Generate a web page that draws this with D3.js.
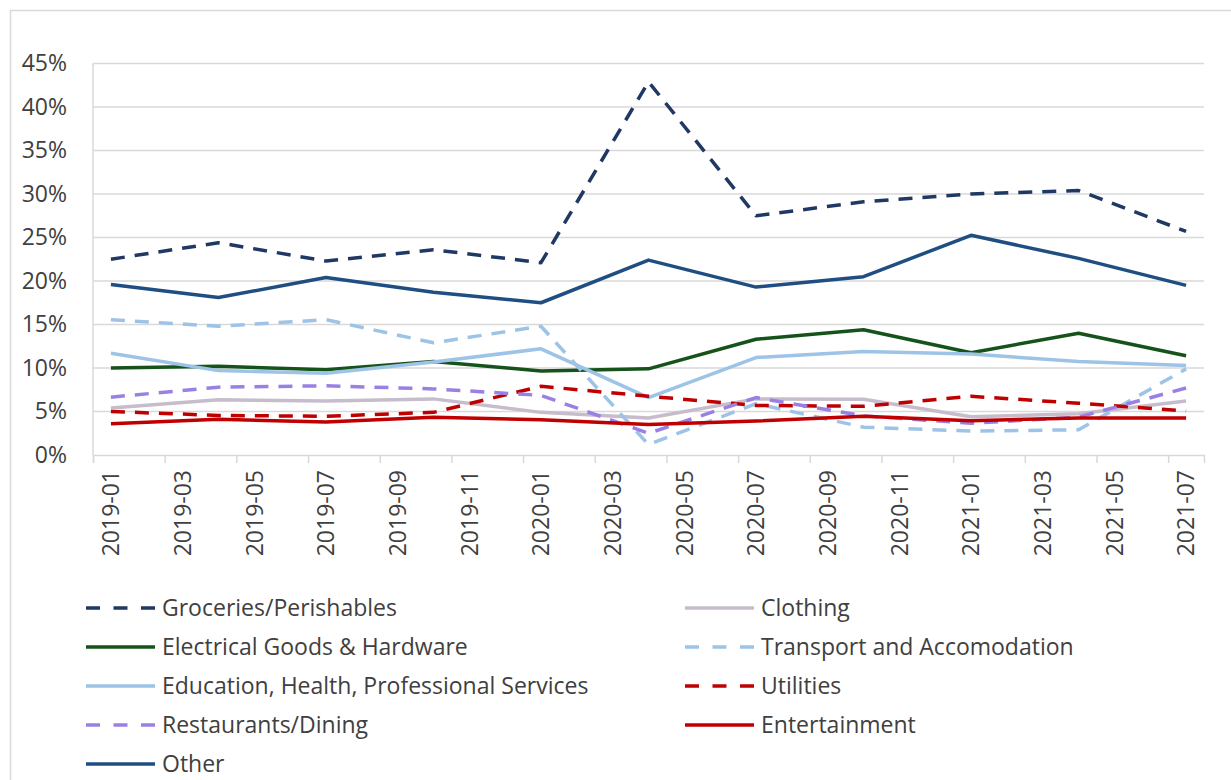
<!DOCTYPE html>
<html>
<head>
<meta charset="utf-8">
<script src="https://cdn.jsdelivr.net/npm/d3@7"></script>
<style>
  body { margin: 0; background: #fff; }
  svg text { font-family: "Open Sans", Lato, sans-serif; fill: #404040; }
</style>
</head>
<body>
<div id="chart"></div>
<script>
// quarterly observations
const dates = ["2019-01", "2019-04", "2019-07", "2019-10", "2020-01", "2020-04", "2020-07", "2020-10", "2021-01", "2021-04", "2021-07"];

const groceries     = [22.5, 24.4, 22.3, 23.6, 22.1, 42.9, 27.5, 29.1, 30.0, 30.4, 25.7];
const clothing      = [5.4, 6.35, 6.2, 6.45, 4.9, 4.25, 6.45, 6.4, 4.4, 4.75, 6.2];
const electrical    = [10.0, 10.2, 9.8, 10.75, 9.65, 9.9, 13.3, 14.4, 11.75, 14.0, 11.4];
const transport     = [15.55, 14.8, 15.55, 12.9, 14.8, 1.2, 5.9, 3.2, 2.75, 2.9, 9.9];
const education     = [11.7, 9.7, 9.4, 10.7, 12.2, 6.6, 11.2, 11.9, 11.6, 10.75, 10.3];
const utilities     = [5.0, 4.55, 4.45, 4.9, 7.9, 6.75, 5.7, 5.6, 6.75, 5.95, 5.05];
const restaurants   = [6.65, 7.8, 7.95, 7.6, 6.85, 2.5, 6.6, 4.5, 3.65, 4.35, 7.7];
const entertainment = [3.6, 4.1, 3.8, 4.35, 4.05, 3.5, 3.9, 4.45, 3.95, 4.25, 4.25];
const other         = [19.6, 18.1, 20.4, 18.7, 17.5, 22.4, 19.3, 20.5, 25.25, 22.6, 19.5];

const tickLabels = ["2019-01", "2019-03", "2019-05", "2019-07", "2019-09", "2019-11", "2020-01", "2020-03",
                    "2020-05", "2020-07", "2020-09", "2020-11", "2021-01", "2021-03", "2021-05", "2021-07"];
const yTicks = [0, 5, 10, 15, 20, 25, 30, 35, 40, 45];

const series = [
    { name: "Groceries/Perishables", values: groceries, color: "#203864", dash: true },
    { name: "Clothing", values: clothing, color: "#c7bccb", dash: false },
    { name: "Electrical Goods & Hardware", values: electrical, color: "#15531a", dash: false },
    { name: "Transport and Accomodation", values: transport, color: "#9dc3e6", dash: true },
    { name: "Education, Health, Professional Services", values: education, color: "#9dc3e6", dash: false },
    { name: "Utilities", values: utilities, color: "#c00000", dash: true },
    { name: "Restaurants/Dining", values: restaurants, color: "#9b80e3", dash: true },
    { name: "Entertainment", values: entertainment, color: "#c00000", dash: false },
    { name: "Other", values: other, color: "#1f4e82", dash: false }
];

const W = 1231, H = 780;
const svg = d3.select("#chart").append("svg").attr("width", W).attr("height", H);

// chart border (runs off the right/bottom of the picture)
svg.append("rect").attr("x", 10.5).attr("y", 10.5).attr("width", W + 20).attr("height", H + 20)
    .attr("fill", "none").attr("stroke", "#d9d9d9").attr("stroke-width", 1.5);

const margin = { top: 63.5, left: 93, right: 1204, bottom: 455 };

// month index from start of 2019, data sit in the middle of their month slot
const monthIndex = s => { const [yy, mm] = s.split("-").map(Number); return (yy - 2019) * 12 + (mm - 1); };
const x = d3.scaleLinear().domain([0, 31]).range([margin.left, margin.right]);
const y = d3.scaleLinear().domain([0, 45]).range([margin.bottom, margin.top]);

// gridlines
svg.append("g").selectAll("line").data(yTicks.slice(1)).enter().append("line")
    .attr("x1", margin.left).attr("x2", margin.right)
    .attr("y1", d => y(d)).attr("y2", d => y(d))
    .attr("stroke", "#d9d9d9").attr("stroke-width", 1.5);

// vertical axis line
svg.append("line").attr("x1", margin.left).attr("x2", margin.left)
    .attr("y1", y(45)).attr("y2", y(0)).attr("stroke", "#d9d9d9").attr("stroke-width", 1.5);

// y labels
const yAxis = svg.append("g").attr("transform", `translate(${margin.left - 26},0)`)
    .call(d3.axisLeft(y).tickValues(yTicks).tickSize(0).tickFormat(d => d + "%"));
yAxis.select(".domain").remove();
yAxis.selectAll("text").attr("font-size", 23).attr("x", 0)
    .style("font-family", "'Open Sans'").style("fill", "#404040");

// x axis: ticks at month boundaries every 2 months, labels centered in the month slot
const xAxis = svg.append("g").attr("transform", `translate(0,${y(0)})`)
    .call(d3.axisBottom(x).tickValues(tickLabels.map(monthIndex)).tickSize(8).tickFormat(""));
xAxis.select(".domain").attr("stroke", "#d9d9d9").attr("stroke-width", 1.5);
xAxis.selectAll(".tick line").attr("stroke", "#d9d9d9").attr("stroke-width", 1.5);

svg.append("g").selectAll("text").data(tickLabels).enter().append("text")
    .attr("transform", d => `translate(${x(monthIndex(d) + 0.5)},${y(0) + 15}) rotate(-90)`)
    .attr("text-anchor", "end").attr("dy", "0.36em").attr("font-size", 23)
    .text(d => d);

// lines
const line = d3.line().x((d, i) => x(monthIndex(dates[i]) + 0.5)).y(d => y(d));
svg.append("g").selectAll("path").data(series).enter().append("path")
    .attr("d", d => line(d.values))
    .attr("fill", "none")
    .attr("stroke", d => d.color)
    .attr("stroke-width", 3.5)
    .attr("stroke-linejoin", "round")
    .attr("stroke-dasharray", d => d.dash ? "14,10" : null);

// legend, two columns filled row by row
const legend = svg.append("g").selectAll("g").data(series).enter().append("g")
    .attr("transform", (d, i) => `translate(${i % 2 === 0 ? 86 : 685},${608 + Math.floor(i / 2) * 39})`);
legend.append("line").attr("x1", 0).attr("x2", 69).attr("y1", 0).attr("y2", 0)
    .attr("stroke", d => d.color).attr("stroke-width", 3.5)
    .attr("stroke-dasharray", d => d.dash ? "14,13.5" : null);
legend.append("text").attr("x", 76).attr("dy", "0.36em").attr("font-size", 23).text(d => d.name);
</script>
</body>
</html>
